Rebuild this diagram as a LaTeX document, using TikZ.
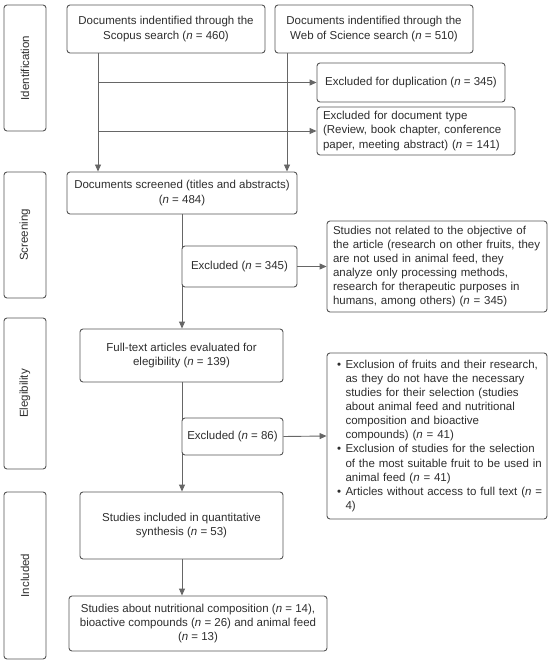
\documentclass[tikz,border=0pt]{standalone}
\usepackage{fontspec}
\setmainfont{Liberation Sans}
\usetikzlibrary{arrows.meta,calc}
\definecolor{boxc}{HTML}{555555}
\definecolor{txtc}{HTML}{2E2E2E}
\definecolor{arrc}{HTML}{666666}
\newcommand\nval{\textit{n}}
\begin{document}
\begin{tikzpicture}[x=1pt,y=-1pt,
  box/.style={draw=boxc, fill=white, line width=0.9pt, rounded corners=3pt, text=txtc,
    font=\fontsize{11.5}{14.1}\selectfont, inner sep=0pt, align=center},
  lbox/.style={box, align=left},
  arr/.style={draw=arrc, line width=0.9pt, -{Triangle[width=6pt,length=7pt]}}]
\useasboundingbox (0,0) rectangle (550,663);

% stage labels
\node[box, minimum width=42pt, minimum height=126pt] (l1) at (25,68) {\rotatebox{90}{Identification}};
\node[box, minimum width=42pt, minimum height=126pt] (l2) at (25,235) {\rotatebox{90}{Screening}};
\node[box, minimum width=42pt, minimum height=151pt] (l3) at (25,393.5) {\rotatebox{90}{Elegibility}};
\node[box, minimum width=42pt, minimum height=167pt] (l4) at (25,575.5) {\rotatebox{90}{Included}};

\coordinate (lx) at (98,0);
\coordinate (rx) at (287,0);
\coordinate (mx) at (182,0);

% boxes
\node[box, minimum width=198pt, minimum height=48pt] (scopus) at (166,29)
  {Documents indentified through the\\Scopus search (\nval{} = 460)};
\node[box, minimum width=198pt, minimum height=48pt] (wos) at (374,29)
  {Documents indentified through the\\Web of Science search (\nval{} = 510)};
\node[box, minimum width=188pt, minimum height=39pt] (dup) at (411,82.5)
  {Excluded for duplication (\nval{} = 345)};
\node[lbox, text width=186pt, inner xsep=6pt, minimum height=48pt] (doct) at (416,131)
  {Excluded for document type\\(Review, book chapter, conference\\paper, meeting abstract) (\nval{} = 141)};
\node[box, minimum width=230pt, minimum height=42pt] (screened) at (182,193)
  {Documents screened (titles and abstracts)\\(\nval{} = 484)};

% connectors (drawn before the boxes that sit on them)
\draw[arr] (scopus.south -| lx) -- (screened.north -| lx);
\draw[arr] (wos.south -| rx) -- (screened.north -| rx);
\draw[arr] (lx |- dup.west) -- (dup.west);
\draw[arr] (lx |- doct.west) -- (doct.west);

\node[box, minimum width=203pt, minimum height=53pt] (fulltext) at (181.5,355.5)
  {Full-text articles evaluated for\\elegibility (\nval{} = 139)};
\node[box, minimum width=203pt, minimum height=67pt] (incl) at (181.5,525.5)
  {Studies included in quantitative\\synthesis (\nval{} = 53)};
\node[box, minimum width=258pt, minimum height=55pt] (final) at (198,623.5)
  {Studies about nutritional composition (\nval{} = 14),\\bioactive compounds (\nval{} = 26) and animal feed\\(\nval{} = 13)};

\draw[arr] (screened.south -| mx) -- (fulltext.north -| mx);
\draw[arr] (fulltext.south -| mx) -- (incl.north -| mx);
\draw[arr] (incl.south -| mx) -- (final.north -| mx);

\node[box, minimum width=115pt, minimum height=41pt] (ex345) at (239.5,266.5)
  {Excluded (\nval{} = 345)};
\node[lbox, text width=214pt, inner xsep=3pt, minimum height=91pt] (notrel) at (437,266.5)
  {\hspace*{3pt}\begin{tabular}{@{}l@{}}Studies not related to the objective of\\the article (research on other fruits, they\\are not used in animal feed, they\\analyze only processing methods,\\research for therapeutic purposes in\\humans, among others) (\nval{} = 345)\end{tabular}};
\node[box, minimum width=101pt, minimum height=37pt] (ex86) at (232.5,436.5)
  {Excluded (\nval{} = 86)};
\node[lbox, text width=200pt, inner xsep=10pt, minimum height=166pt] (bullets) at (437,436)
  {\begin{tabular}{@{}l@{\hspace{4.5pt}}l@{}}
   \textbullet & Exclusion of fruits and their research,\\
   & as they do not have the necessary\\
   & studies for their selection (studies\\
   & about animal feed and nutritional\\
   & composition and bioactive\\
   & compounds) (\nval{} = 41)\\
   \textbullet & Exclusion of studies for the selection\\
   & of the most suitable fruit to be used in\\
   & animal feed (\nval{} = 41)\\
   \textbullet & Articles without access to full text (\nval{} =\\
   & 4)
   \end{tabular}};

\draw[arr] (ex345.east) -- (notrel.west);
\draw[arr] (ex86.east) -- (bullets.west);
\end{tikzpicture}
\end{document}
